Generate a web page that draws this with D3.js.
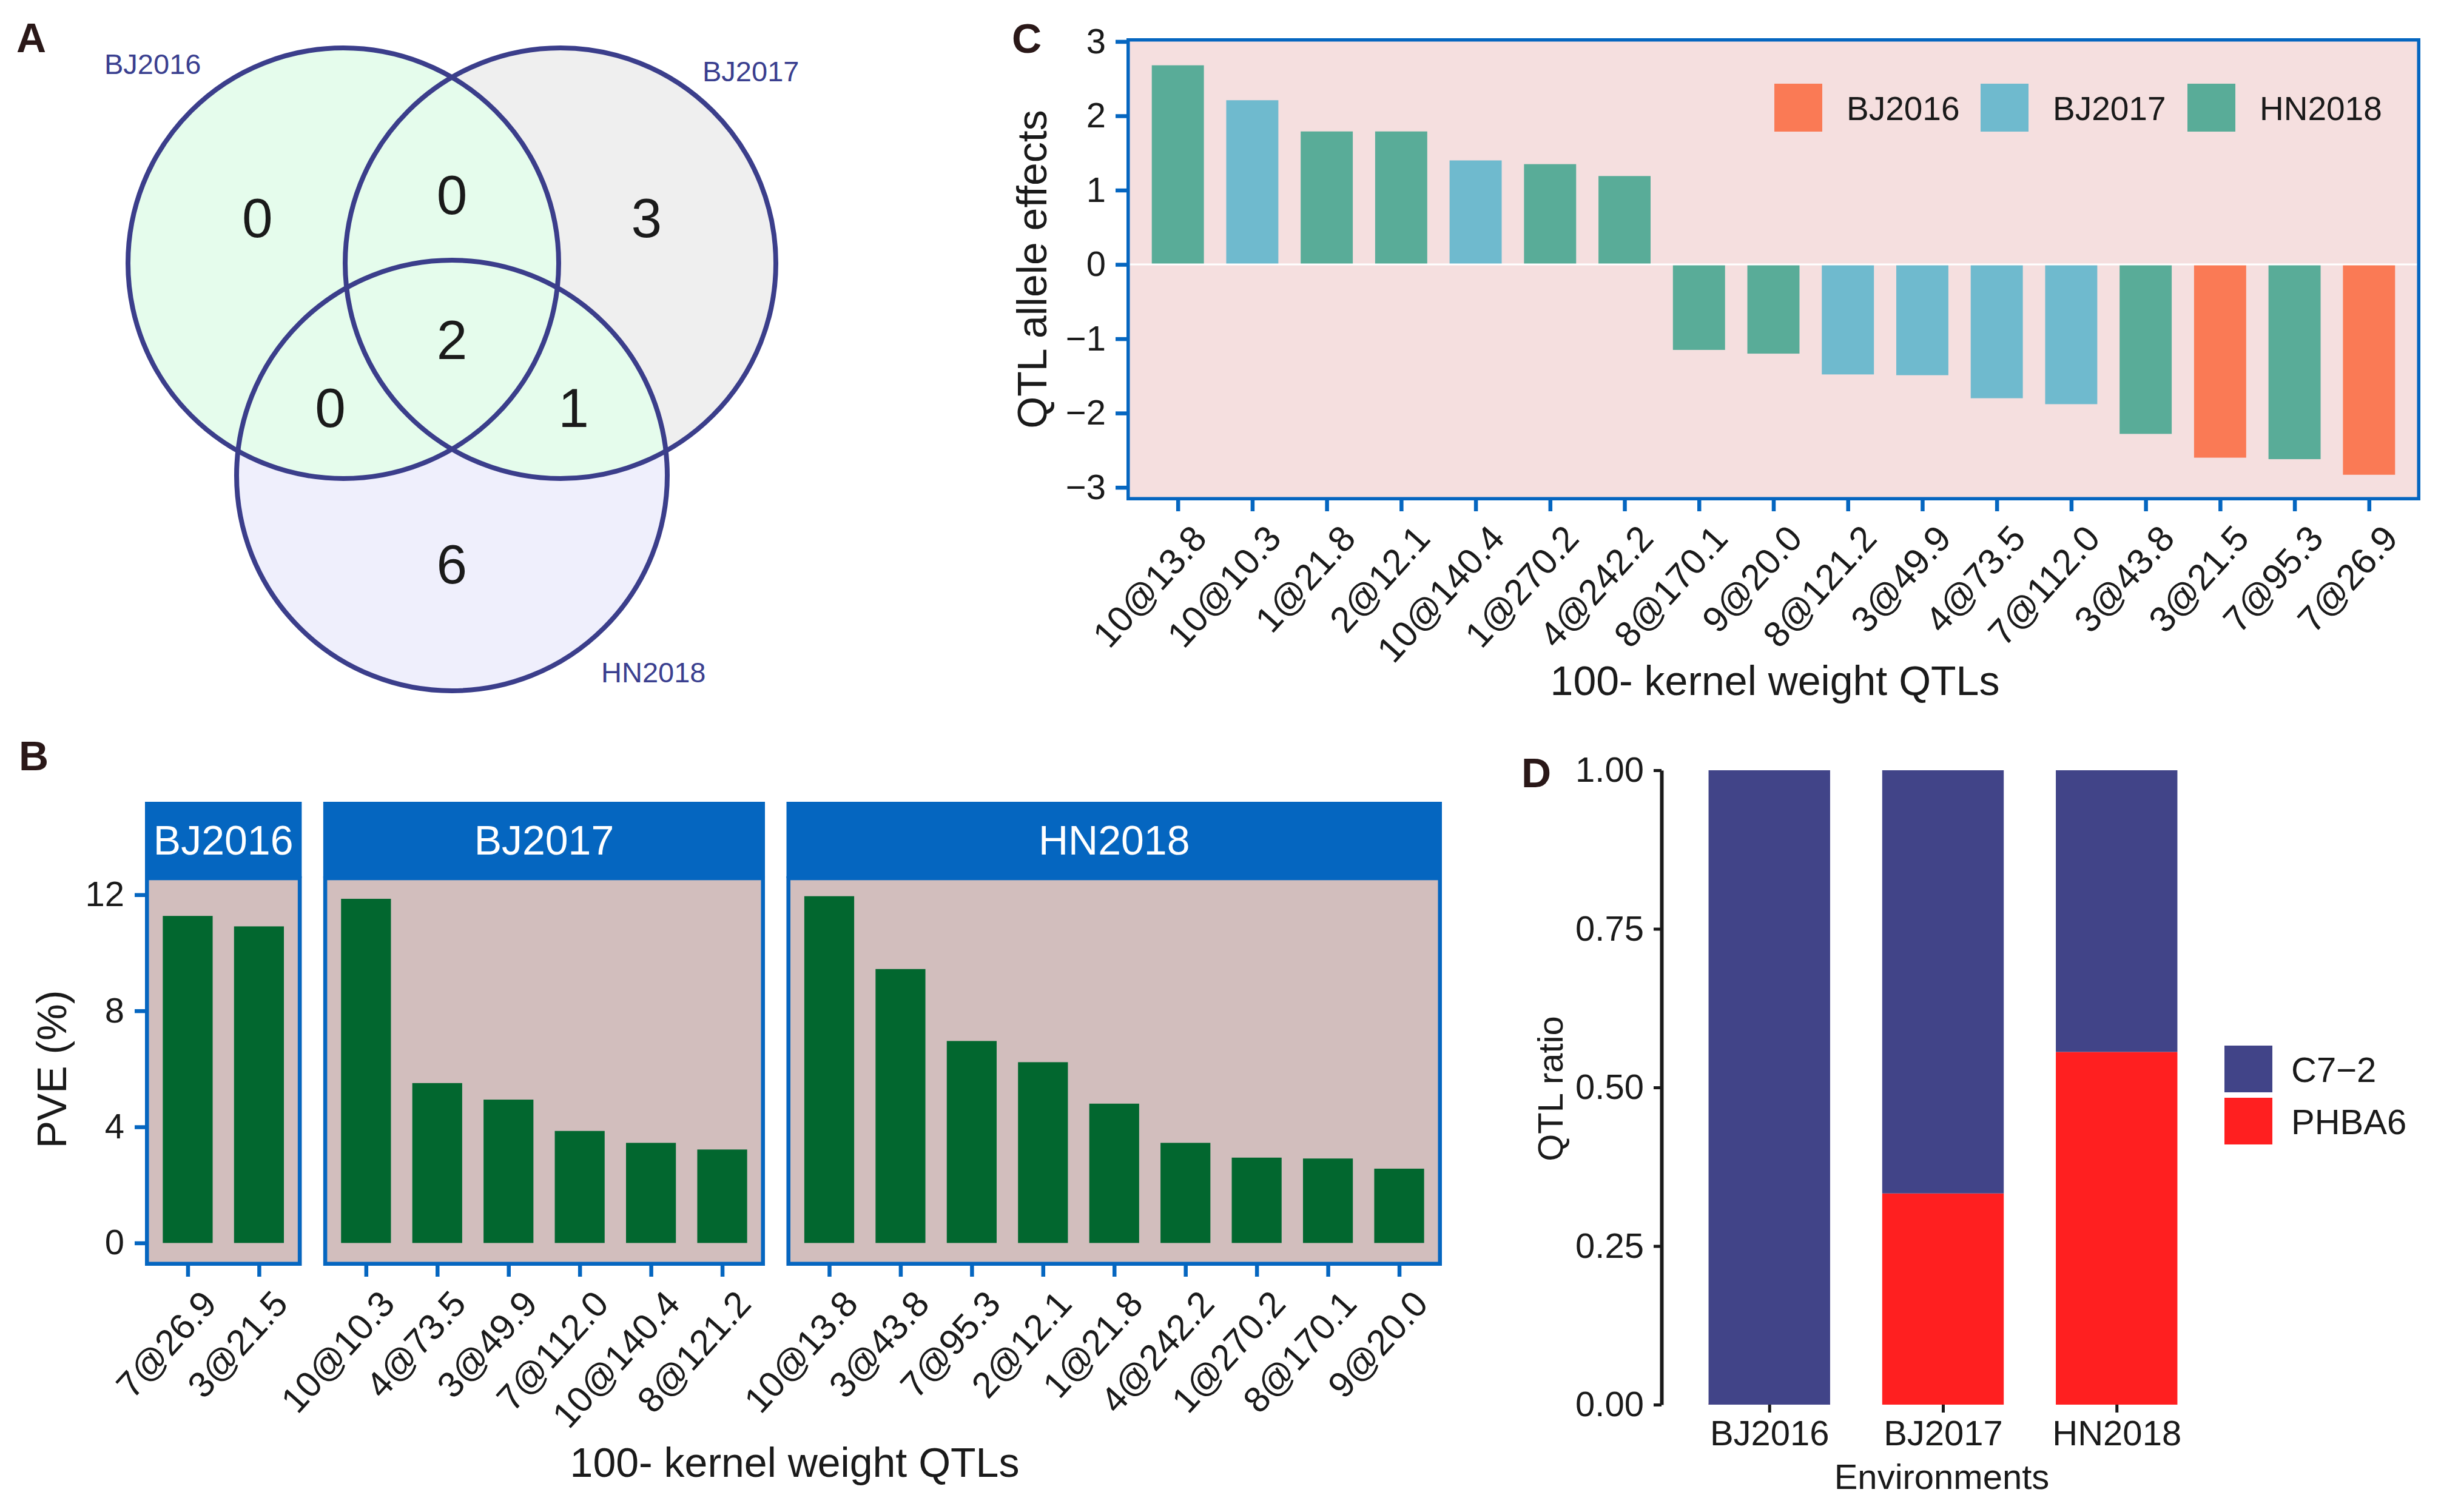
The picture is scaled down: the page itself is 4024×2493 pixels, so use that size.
<!DOCTYPE html>
<html>
<head>
<meta charset="utf-8">
<title>100-kernel weight QTLs</title>
<script src="https://d3js.org/d3.v7.min.js"></script>
<style>
  body { margin: 0; background: #fff; }
  text { font-family: "Liberation Sans", Arial, sans-serif; fill: #1a1a1a; }
  .tag { font-weight: bold; font-size: 68px; fill: #2a1818; }
</style>
</head>
<body>
<script>
// ---------------- data ----------------
var envs = ["BJ2016", "BJ2017", "HN2018"];
var envColors = ["#fa7a55", "#6fbace", "#59ac98"];

// A: venn region counts, membership flags in order BJ2016 / BJ2017 / HN2018
var vennRegions = ["100", "010", "001", "110", "101", "011", "111"];
var vennCounts  = [0, 3, 6, 0, 0, 1, 2];

// C: QTL allele effects
var effectQtl = ["10@13.8", "10@10.3", "1@21.8", "2@12.1", "10@140.4", "1@270.2", "4@242.2", "8@170.1", "9@20.0",
                 "8@121.2", "3@49.9", "4@73.5", "7@112.0", "3@43.8", "3@21.5", "7@95.3", "7@26.9"];
var effectEnv = ["HN2018", "BJ2017", "HN2018", "HN2018", "BJ2017", "HN2018", "HN2018", "HN2018", "HN2018",
                 "BJ2017", "BJ2017", "BJ2017", "BJ2017", "HN2018", "BJ2016", "HN2018", "BJ2016"];
var effectVal = [2.68, 2.21, 1.79, 1.79, 1.40, 1.35, 1.19, -1.15, -1.20, -1.48, -1.49, -1.80, -1.88, -2.28, -2.60, -2.62, -2.83];
var effectTicks = [-3, -2, -1, 0, 1, 2, 3];

// B: PVE per environment
var pveQtlBJ2016 = ["7@26.9", "3@21.5"];
var pveBJ2016    = [11.27, 10.91];
var pveQtlBJ2017 = ["10@10.3", "4@73.5", "3@49.9", "7@112.0", "10@140.4", "8@121.2"];
var pveBJ2017    = [11.86, 5.51, 4.94, 3.86, 3.45, 3.22];
var pveQtlHN2018 = ["10@13.8", "3@43.8", "7@95.3", "2@12.1", "1@21.8", "4@242.2", "1@270.2", "8@170.1", "9@20.0"];
var pveHN2018    = [11.95, 9.44, 6.96, 6.23, 4.80, 3.45, 2.94, 2.91, 2.56];
var pveTicks = [0, 4, 8, 12];

// D: QTL ratio by parent
var parents = ["C7\u22122", "PHBA6"];
var parentColors = ["#414488", "#ff1f20"];
var ratioC72   = [1.000, 0.667, 0.444];
var ratioPHBA6 = [0.000, 0.333, 0.556];
var ratioTicks = [0, 0.25, 0.5, 0.75, 1];

// ---------------- drawing ----------------
var blue = "#0566c0";
var svg = d3.select("body").append("svg").attr("width", 4024).attr("height", 2493);

function minus(d) { return d < 0 ? "\u2212" + Math.abs(d) : "" + d; }

// panel tags
svg.append("text").attr("class", "tag").attr("x", 27).attr("y", 86).text("A");
svg.append("text").attr("class", "tag").attr("x", 31).attr("y", 1270).text("B");
svg.append("text").attr("class", "tag").attr("x", 1668).attr("y", 87).text("C");
svg.append("text").attr("class", "tag").attr("x", 2508).attr("y", 1298).text("D");

// ===== A: venn =====
var vennR = 355;
var vennC = [{x: 566, y: 434}, {x: 924, y: 434}, {x: 745, y: 784}];
var vennFill = ["#e5fcec", "#efefef", "#efeffc"];
var gA = svg.append("g");

gA.append("clipPath").attr("id", "clipB")
  .append("circle").attr("cx", vennC[1].x).attr("cy", vennC[1].y).attr("r", vennR);

gA.append("circle").attr("cx", vennC[1].x).attr("cy", vennC[1].y).attr("r", vennR).attr("fill", vennFill[1]);
gA.append("circle").attr("cx", vennC[2].x).attr("cy", vennC[2].y).attr("r", vennR).attr("fill", vennFill[2]);
gA.append("circle").attr("cx", vennC[0].x).attr("cy", vennC[0].y).attr("r", vennR).attr("fill", vennFill[0]);
gA.append("circle").attr("cx", vennC[2].x).attr("cy", vennC[2].y).attr("r", vennR)
  .attr("fill", vennFill[0]).attr("clip-path", "url(#clipB)");

gA.selectAll("circle.ring").data(vennC).enter().append("circle").attr("class", "ring")
  .attr("cx", function(d){ return d.x; }).attr("cy", function(d){ return d.y; }).attr("r", vennR)
  .attr("fill", "none").attr("stroke", "#3b3e8b").attr("stroke-width", 8);

// region label at the centroid of each region
var acc = {};
vennRegions.forEach(function(k){ acc[k] = {sx: 0, sy: 0, n: 0}; });
for (var gx = 200; gx < 1290; gx += 4) {
  for (var gy = 70; gy < 1150; gy += 4) {
    var key = vennC.map(function(c){
      return (gx - c.x) * (gx - c.x) + (gy - c.y) * (gy - c.y) < vennR * vennR ? "1" : "0";
    }).join("");
    if (acc[key]) { acc[key].sx += gx; acc[key].sy += gy; acc[key].n += 1; }
  }
}
gA.selectAll("text.count").data(vennRegions).enter().append("text").attr("class", "count")
  .attr("x", function(k){ return acc[k].sx / acc[k].n; })
  .attr("y", function(k){ return acc[k].sy / acc[k].n; })
  .attr("dy", "0.36em").attr("text-anchor", "middle").style("font-size", "91px")
  .text(function(k, i){ return vennCounts[i]; });

var vennLabelPos = [[172, 122], [1158, 134], [991, 1125]];
gA.selectAll("text.set").data(envs).enter().append("text").attr("class", "set")
  .attr("x", function(d, i){ return vennLabelPos[i][0]; })
  .attr("y", function(d, i){ return vennLabelPos[i][1]; })
  .style("font-size", "47px").style("fill", "#3a3f8f")
  .text(function(d){ return d; });

// rotated x tick labels shared by B and C
function rotateLabels(axisG) {
  axisG.selectAll(".tick text")
    .attr("x", 0).attr("y", 0).attr("dy", "0.72em")
    .attr("text-anchor", "end")
    .attr("transform", "translate(18,36) rotate(-48)")
    .style("font-size", "60px").style("fill", "#1a1a1a");
}
function styleTicks(axisG, color, width) {
  axisG.select(".domain").remove();
  axisG.selectAll(".tick line").attr("stroke", color).attr("stroke-width", width);
  axisG.selectAll(".tick text").style("font-size", "58px").style("fill", "#1a1a1a")
    .style("font-family", '"Liberation Sans", Arial, sans-serif');
}

// ===== C: allele effects =====
var cBox = {x0: 1857, x1: 3990, y0: 63, y1: 825, lw: 5.5};
var cx = d3.scalePoint().domain(effectQtl).range([cBox.x0, cBox.x1]).padding(0.69);
var cy = d3.scaleLinear().domain([-3.15, 3.02]).range([822, 66]);
var envColor = d3.scaleOrdinal().domain(envs).range(envColors);
var cbw = cx.step() * 0.7;
var gC = svg.append("g");

gC.append("rect").attr("x", cBox.x0).attr("y", cBox.y0)
  .attr("width", cBox.x1 - cBox.x0).attr("height", cBox.y1 - cBox.y0).attr("fill", "#f5dfdf");

gC.selectAll("rect.bar").data(effectVal).enter().append("rect").attr("class", "bar")
  .attr("x", function(d, i){ return cx(effectQtl[i]) - cbw / 2; })
  .attr("y", function(d){ return Math.min(cy(d), cy(0)); })
  .attr("width", cbw)
  .attr("height", function(d){ return Math.abs(cy(d) - cy(0)); })
  .attr("fill", function(d, i){ return envColor(effectEnv[i]); });

gC.append("line").attr("x1", cBox.x0).attr("x2", cBox.x1).attr("y1", cy(0)).attr("y2", cy(0))
  .attr("stroke", "#fff").attr("stroke-width", 3);

gC.append("rect").attr("x", cBox.x0 + cBox.lw / 2).attr("y", cBox.y0 + cBox.lw / 2)
  .attr("width", cBox.x1 - cBox.x0 - cBox.lw).attr("height", cBox.y1 - cBox.y0 - cBox.lw)
  .attr("fill", "none").attr("stroke", blue).attr("stroke-width", cBox.lw);

var cyAxis = gC.append("g").attr("transform", "translate(" + cBox.x0 + ",0)")
  .call(d3.axisLeft(cy).tickValues(effectTicks).tickSize(18).tickPadding(16).tickFormat(minus));
styleTicks(cyAxis, blue, 6.5);

var cxAxis = gC.append("g").attr("transform", "translate(0," + cBox.y1 + ")")
  .call(d3.axisBottom(cx).tickSize(18));
styleTicks(cxAxis, blue, 6.5);
rotateLabels(cxAxis);

gC.append("text").attr("transform", "translate(1725,444) rotate(-90)")
  .attr("text-anchor", "middle").style("font-size", "68px").text("QTL allele effects");
gC.append("text").attr("x", 2926).attr("y", 1146)
  .attr("text-anchor", "middle").style("font-size", "68px").text("100- kernel weight QTLs");

var cLegX = [2925, 3265, 3606];
var cLeg = gC.selectAll("g.leg").data(envs).enter().append("g").attr("class", "leg")
  .attr("transform", function(d, i){ return "translate(" + cLegX[i] + ",138)"; });
cLeg.append("rect").attr("width", 79).attr("height", 79).attr("fill", function(d){ return envColor(d); });
cLeg.append("text").attr("x", 119).attr("y", 40).attr("dy", "0.36em")
  .style("font-size", "55px").text(function(d){ return d; });

// ===== B: PVE facets =====
var facets = [
  {name: "BJ2016", qtl: pveQtlBJ2016, val: pveBJ2016},
  {name: "BJ2017", qtl: pveQtlBJ2017, val: pveBJ2017},
  {name: "HN2018", qtl: pveQtlHN2018, val: pveHN2018}
];
var bLeft = 239, bRight = 2377, bGap = 35.5;
var bStripTop = 1322, bPanelTop = 1448, bPanelBottom = 2087, bLw = 6.5;
var units = d3.sum(facets, function(f){ return f.qtl.length - 1 + 1.2; });
var bStep = (bRight - bLeft - bGap * (facets.length - 1)) / units;
var by = d3.scaleLinear().domain([-0.65, 12.57]).range([bPanelBottom - bLw, bPanelTop]);
var gB = svg.append("g");

var fx = bLeft;
facets.forEach(function(f){
  var w = (f.qtl.length - 1 + 1.2) * bStep;
  var sx = d3.scalePoint().domain(f.qtl).range([fx, fx + w]).padding(0.6);
  var bw = sx.step() * 0.7;
  var g = gB.append("g");

  g.append("rect").attr("x", fx).attr("y", bPanelTop).attr("width", w)
    .attr("height", bPanelBottom - bPanelTop).attr("fill", "#d2bebd");
  g.selectAll("rect.bar").data(f.val).enter().append("rect").attr("class", "bar")
    .attr("x", function(d, i){ return sx(f.qtl[i]) - bw / 2; })
    .attr("y", function(d){ return by(d); })
    .attr("width", bw)
    .attr("height", function(d){ return by(0) - by(d); })
    .attr("fill", "#02672f");
  g.append("rect").attr("x", fx + bLw / 2).attr("y", bPanelTop)
    .attr("width", w - bLw).attr("height", bPanelBottom - bPanelTop - bLw / 2)
    .attr("fill", "none").attr("stroke", blue).attr("stroke-width", bLw);
  g.append("rect").attr("x", fx).attr("y", bStripTop).attr("width", w)
    .attr("height", bPanelTop - bStripTop).attr("fill", blue);
  g.append("text").attr("x", fx + w / 2).attr("y", (bStripTop + bPanelTop) / 2).attr("dy", "0.36em")
    .attr("text-anchor", "middle").style("font-size", "68px").style("fill", "#fff").text(f.name);

  var ax = g.append("g").attr("transform", "translate(0," + bPanelBottom + ")")
    .call(d3.axisBottom(sx).tickSize(18));
  styleTicks(ax, blue, 6.5);
  rotateLabels(ax);

  fx += w + bGap;
});

var byAxis = gB.append("g").attr("transform", "translate(" + bLeft + ",0)")
  .call(d3.axisLeft(by).tickValues(pveTicks).tickSize(17).tickPadding(17));
styleTicks(byAxis, blue, 6.5);

gB.append("text").attr("transform", "translate(109,1763) rotate(-90)")
  .attr("text-anchor", "middle").style("font-size", "68px").text("PVE (%)");
gB.append("text").attr("x", 1310).attr("y", 2435)
  .attr("text-anchor", "middle").style("font-size", "68px").text("100- kernel weight QTLs");

// ===== D: stacked ratio =====
var dRows = envs.map(function(e, i){ return {env: e, PHBA6: ratioPHBA6[i], C72: ratioC72[i]}; });
var stack = d3.stack().keys(["PHBA6", "C72"])(dRows);
var dx = d3.scalePoint().domain(envs).range([2745, 3661]).padding(0.6);
var dy = d3.scaleLinear().domain([0, 1]).range([2316, 1270]);
var dColor = {PHBA6: parentColors[1], C72: parentColors[0]};
var dbw = dx.step() * 0.7;
var gD = svg.append("g");

gD.selectAll("g.layer").data(stack).enter().append("g").attr("class", "layer")
  .attr("fill", function(s){ return dColor[s.key]; })
  .selectAll("rect").data(function(s){ return s; }).enter().append("rect")
  .attr("x", function(d){ return dx(d.data.env) - dbw / 2; })
  .attr("y", function(d){ return dy(d[1]) - (d[1] === d[0] ? 1.5 : 0); })
  .attr("width", dbw)
  .attr("height", function(d){ return Math.max(dy(d[0]) - dy(d[1]), 1.5); });

var dyAxis = gD.append("g").attr("transform", "translate(2739,0)")
  .call(d3.axisLeft(dy).tickValues(ratioTicks).tickSize(13).tickSizeOuter(0).tickPadding(16).tickFormat(d3.format(".2f")));
dyAxis.select(".domain").attr("stroke", "#1a1a1a").attr("stroke-width", 6);
dyAxis.selectAll(".tick line").attr("stroke", "#1a1a1a").attr("stroke-width", 5);
dyAxis.selectAll(".tick text").style("font-size", "58px").style("fill", "#1a1a1a")
  .style("font-family", '"Liberation Sans", Arial, sans-serif');

var dxAxis = gD.append("g").attr("transform", "translate(0,2316)")
  .call(d3.axisBottom(dx).tickSize(13).tickPadding(13));
styleTicks(dxAxis, "#1a1a1a", 5);

gD.append("text").attr("transform", "translate(2576,1795) rotate(-90)")
  .attr("text-anchor", "middle").style("font-size", "58px").text("QTL ratio");
gD.append("text").attr("x", 3201).attr("y", 2455)
  .attr("text-anchor", "middle").style("font-size", "58px").text("Environments");

var dLegY = [1724, 1810];
var dLeg = gD.selectAll("g.leg").data(parents).enter().append("g").attr("class", "leg")
  .attr("transform", function(d, i){ return "translate(3667," + dLegY[i] + ")"; });
dLeg.append("rect").attr("width", 79).attr("height", 77).attr("fill", function(d, i){ return parentColors[i]; });
dLeg.append("text").attr("x", 110).attr("y", 39).attr("dy", "0.36em")
  .style("font-size", "58px").text(function(d){ return d; });
</script>
</body>
</html>
